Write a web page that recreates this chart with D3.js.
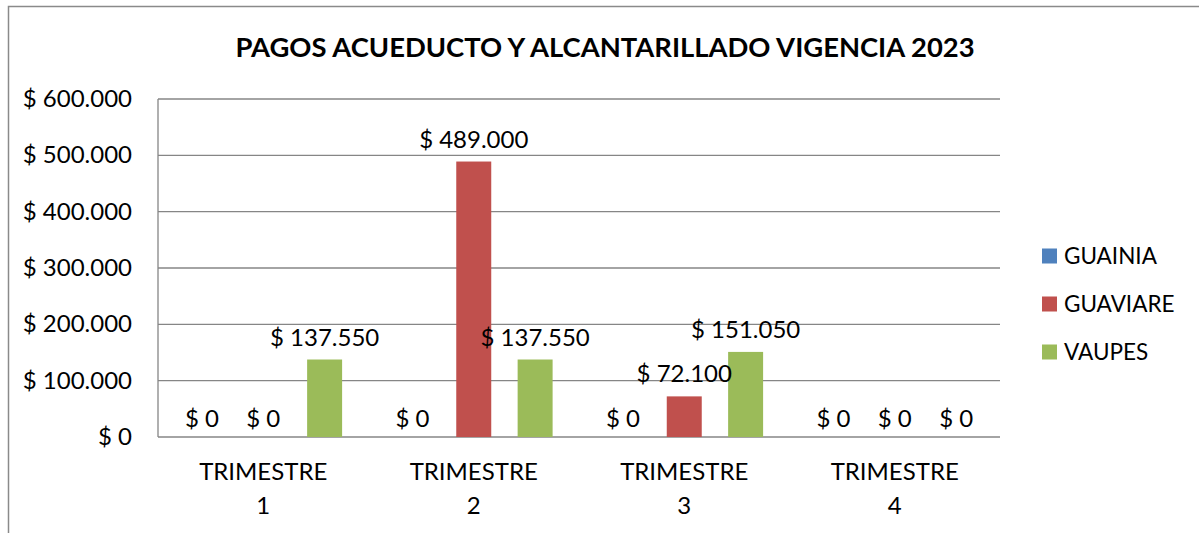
<!DOCTYPE html>
<html>
<head>
<meta charset="utf-8">
<script src="https://cdn.jsdelivr.net/npm/d3@7"></script>
<style>
  body { margin: 0; background: #fff; }
  svg text { font-family: Lato, "Open Sans", sans-serif; fill: #000; }
</style>
</head>
<body>
<div id="chart"></div>
<script>

// chart data
const title = "PAGOS ACUEDUCTO Y ALCANTARILLADO VIGENCIA 2023";
const categories = ["TRIMESTRE 1", "TRIMESTRE 2", "TRIMESTRE 3", "TRIMESTRE 4"];
const seriesNames = ["GUAINIA", "GUAVIARE", "VAUPES"];
const guainia = [0, 0, 0, 0];
const guaviare = [0, 489000, 72100, 0];
const vaupes = [137550, 137550, 151050, 0];
const yTicks = [0, 100000, 200000, 300000, 400000, 500000, 600000];
const colors = ["#4F81BD", "#C0504D", "#9BBB59"];

const seriesValues = [guainia, guaviare, vaupes];

let width = 1199, height = 533;
let margin = {top: 99, left: 158, right: 199, bottom: 96};

let locale = d3.formatLocale({decimal: ",", thousands: ".", grouping: [3], currency: ["$ ", ""]});
let fmt = locale.format("$,");

let svg = d3.select("#chart").append("svg")
    .attr("width", width)
    .attr("height", height);

// outer chart border
svg.append("rect")
    .attr("x", 8.5).attr("y", 6.5)
    .attr("width", 1300).attr("height", 600)
    .attr("fill", "none")
    .attr("stroke", "#8a8a8a")
    .attr("stroke-width", 1.5);

let x0 = d3.scaleBand()
    .domain(categories)
    .range([margin.left, width - margin.right]);

let x1 = d3.scaleBand()
    .domain(seriesNames)
    .range([0, x0.bandwidth()])
    .padding(0.43);

let y = d3.scaleLinear()
    .domain([0, 600000])
    .range([height - margin.bottom, margin.top]);

// gridlines
svg.append("g")
    .selectAll("line")
    .data(yTicks)
    .enter().append("line")
    .attr("x1", margin.left).attr("x2", width - margin.right)
    .attr("y1", d => y(d)).attr("y2", d => y(d))
    .attr("stroke", "#868686")
    .attr("stroke-width", 1.3);

// y axis line
svg.append("line")
    .attr("x1", margin.left).attr("x2", margin.left)
    .attr("y1", y(600000)).attr("y2", y(0))
    .attr("stroke", "#868686")
    .attr("stroke-width", 1.3);

// y tick labels
svg.append("g")
    .selectAll("text")
    .data(yTicks)
    .enter().append("text")
    .attr("x", 132)
    .attr("y", d => y(d) + 8)
    .style("text-anchor", "end")
    .style("font-size", "24px")
    .text(d => fmt(d));

// bars
let rows = categories.map((c, i) => ({cat: c, vals: seriesNames.map((s, j) => ({s: s, j: j, v: seriesValues[j][i]}))}));

let groups = svg.append("g")
    .selectAll("g")
    .data(rows)
    .enter().append("g")
    .attr("transform", d => `translate(${x0(d.cat)},0)`);

groups.selectAll("rect")
    .data(d => d.vals)
    .enter().append("rect")
    .attr("x", d => x1(d.s))
    .attr("width", x1.bandwidth())
    .attr("y", d => y(d.v))
    .attr("height", d => y(0) - y(d.v))
    .attr("fill", d => colors[d.j]);

groups.selectAll("text")
    .data(d => d.vals)
    .enter().append("text")
    .attr("x", d => x1(d.s) + x1.bandwidth() / 2)
    .attr("y", d => y(d.v) - (d.v > 0 ? 14 : 10))
    .style("text-anchor", "middle")
    .style("font-size", "24px")
    .text(d => fmt(d.v));

// category labels, two lines
let catLabels = svg.append("g")
    .selectAll("text")
    .data(categories)
    .enter().append("text")
    .attr("x", d => x0(d) + x0.bandwidth() / 2)
    .attr("y", 480)
    .style("text-anchor", "middle")
    .style("font-size", "24px");

catLabels.append("tspan")
    .attr("x", d => x0(d) + x0.bandwidth() / 2)
    .attr("y", 480)
    .text(d => d.split(" ")[0]);

catLabels.append("tspan")
    .attr("x", d => x0(d) + x0.bandwidth() / 2)
    .attr("y", 514)
    .text(d => d.split(" ")[1]);

// title
svg.append("text")
    .attr("x", 605)
    .attr("y", 57)
    .style("text-anchor", "middle")
    .style("font-size", "27.4px")
    .style("font-weight", "bold")
    .text(title);

// legend
let legend = svg.append("g")
    .selectAll("g")
    .data(seriesNames)
    .enter().append("g")
    .attr("transform", (d, i) => `translate(1042,${256 + i * 48})`);

legend.append("rect")
    .attr("x", 0).attr("y", -7.5)
    .attr("width", 15).attr("height", 15)
    .attr("fill", (d, i) => colors[i]);

legend.append("text")
    .attr("x", 22)
    .attr("y", 8)
    .style("font-size", "22.5px")
    .text(d => d);

</script>
</body>
</html>
